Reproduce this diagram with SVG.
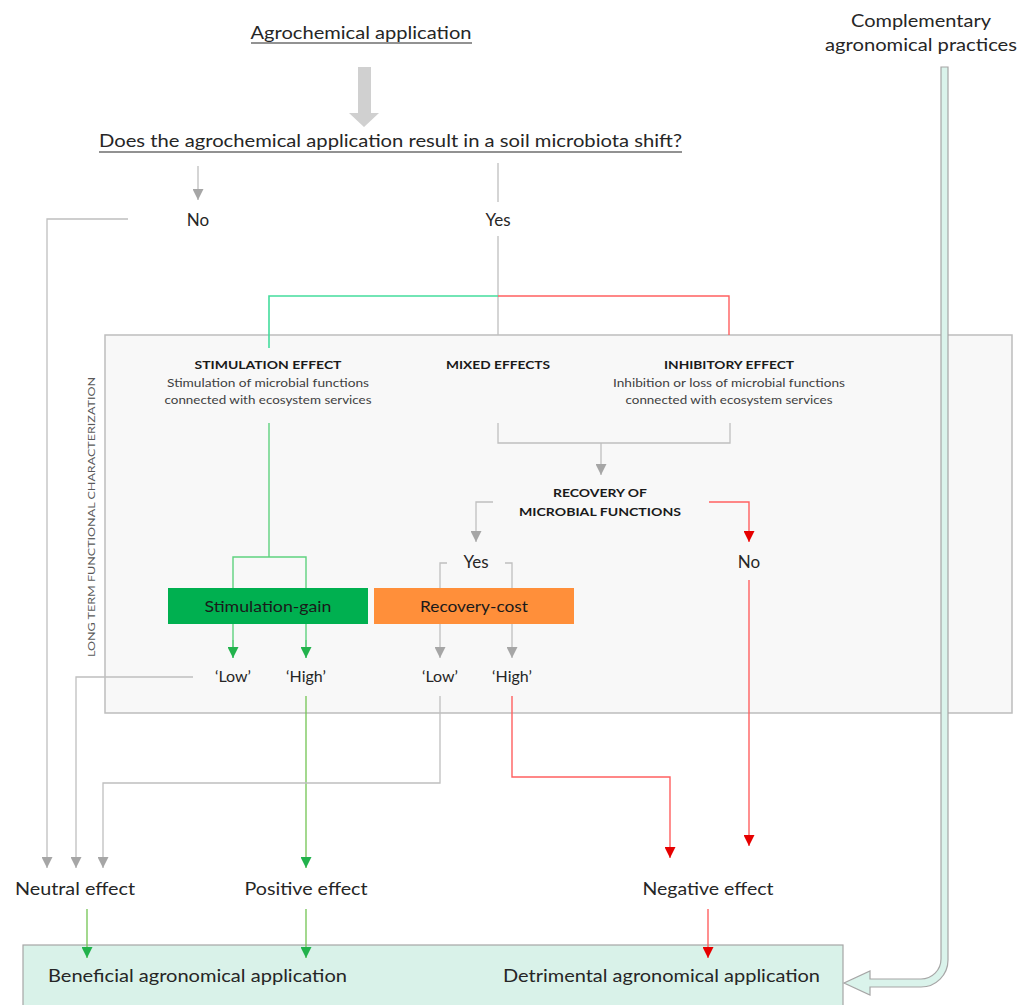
<svg xmlns="http://www.w3.org/2000/svg" width="1027" height="1005" viewBox="0 0 1027 1005">
<style>
text{font-family:Lato,"Liberation Sans",sans-serif;fill:#262626}
.lbl{font-size:17px}
.hdr{font-size:12px;font-weight:bold;fill:#1a1a1a}
.sub{font-size:11.5px;fill:#404040}
.mid{text-anchor:middle}
.g{stroke:#bfbfbf;stroke-width:1.3;fill:none}
.gu{stroke:#44dd9d;stroke-width:1.6;fill:none}
.gs{stroke:#5fd27f;stroke-width:1.4;fill:none}
.gl{stroke:#72c452;stroke-width:1.3;fill:none}
.r{stroke:#ff6060;stroke-width:1.4;fill:none}
.ua{stroke:#262626;stroke-width:1.2}
</style>
<defs>
<marker id="ag" viewBox="0 0 10 10" refX="10" refY="5" markerWidth="11" markerHeight="11" markerUnits="userSpaceOnUse" orient="auto"><path d="M0,0L10,5L0,10Z" fill="#a6a6a6"/></marker>
<marker id="agr" viewBox="0 0 10 10" refX="10" refY="5" markerWidth="11" markerHeight="11" markerUnits="userSpaceOnUse" orient="auto"><path d="M0,0L10,5L0,10Z" fill="#22b24c"/></marker>
<marker id="ar" viewBox="0 0 10 10" refX="10" refY="5" markerWidth="11" markerHeight="11" markerUnits="userSpaceOnUse" orient="auto"><path d="M0,0L10,5L0,10Z" fill="#e60000"/></marker>
</defs>
<rect width="1027" height="1005" fill="#ffffff"/>

<g id="ltfc-box">
<rect x="105" y="335" width="907" height="378" fill="#f8f8f8" stroke="#bdbdbd" stroke-width="1.5"/>
<text transform="translate(95,517) rotate(-90)" class="mid" style="font-size:10px;fill:#595959" textLength="280" lengthAdjust="spacingAndGlyphs">LONG TERM FUNCTIONAL CHARACTERIZATION</text>
</g>

<g id="outcome-box">
<rect x="23" y="945" width="820" height="70" fill="#d9f2e9" stroke="#a6a6a6" stroke-width="1.2"/>
</g>

<g id="connectors">
<polygon points="358,67 371,67 371,113 379,113 364,127 349,113 358,113" fill="#d0d0d0"/>
<line class="g" x1="198" y1="166" x2="198" y2="200" marker-end="url(#ag)"/>
<line class="g" x1="498" y1="163" x2="498" y2="202"/>
<polyline class="g" points="128,219 47,219 47,868" marker-end="url(#ag)"/>
<line class="g" x1="498" y1="236" x2="498" y2="335"/>
<polyline class="gu" points="498,296 269,296 269,348"/>
<polyline class="r" points="498,296 729,296 729,335"/>
<polyline class="gs" points="269,423 269,557"/>
<polyline class="gs" points="233,658 233,557 306,557 306,658"/>
<line x1="233" y1="640" x2="233" y2="658" class="gs" marker-end="url(#agr)"/>
<line x1="306" y1="640" x2="306" y2="658" class="gs" marker-end="url(#agr)"/>
<polyline class="g" points="498,423 498,443 730,443 730,423"/>
<line class="g" x1="601" y1="443" x2="601" y2="475" marker-end="url(#ag)"/>
<polyline class="g" points="493,502 476,502 476,542" marker-end="url(#ag)"/>
<polyline class="r" points="709,502 749,502 749,542" marker-end="url(#ar)"/>
<polyline class="g" points="447,563 440,563 440,658" marker-end="url(#ag)"/>
<polyline class="g" points="505,563 512,563 512,658" marker-end="url(#ag)"/>
<polyline class="g" points="193,677 76,677 76,868" marker-end="url(#ag)"/>
<line class="gl" x1="306" y1="696" x2="306" y2="868" marker-end="url(#agr)"/>
<polyline class="g" points="440,696 440,783 103,783 103,868" marker-end="url(#ag)"/>
<polyline class="r" points="512,696 512,777 670,777 670,858" marker-end="url(#ar)"/>
<line class="r" x1="749" y1="580" x2="749" y2="846" marker-end="url(#ar)"/>
<line class="gl" x1="87" y1="909" x2="87" y2="958" marker-end="url(#agr)"/>
<line class="gl" x1="306" y1="909" x2="306" y2="958" marker-end="url(#agr)"/>
<line class="r" x1="708" y1="909" x2="708" y2="958" marker-end="url(#ar)"/>
<path d="M941,67 L948,67 L948,960 A27,27 0 0 1 921,987 L870,987 L870,995 L844,983 L870,971 L870,979 L921,979 A20,20 0 0 0 941,959 Z" fill="#daf3eb" stroke="#a6a6a6" stroke-width="1.2"/>
</g>

<g id="agrochemical-application">
<text class="lbl mid" x="361" y="39" textLength="221" lengthAdjust="spacingAndGlyphs">Agrochemical application</text>
<line class="ua" x1="251" y1="43" x2="472" y2="43"/>
</g>

<g id="question">
<text class="lbl mid" x="390.5" y="147" textLength="583" lengthAdjust="spacingAndGlyphs">Does the agrochemical application result in a soil microbiota shift?</text>
<line class="ua" x1="99" y1="152" x2="682" y2="152"/>
</g>

<g id="complementary">
<text class="lbl mid" x="921" y="27" textLength="140" lengthAdjust="spacingAndGlyphs">Complementary</text>
<text class="lbl mid" x="921" y="51" textLength="192" lengthAdjust="spacingAndGlyphs">agronomical practices</text>
</g>

<g id="no-shift"><text class="lbl mid" x="198" y="226">No</text></g>
<g id="yes-shift"><text class="lbl mid" x="498" y="226">Yes</text></g>

<g id="stimulation-effect">
<text class="hdr mid" x="268" y="369" textLength="147" lengthAdjust="spacingAndGlyphs">STIMULATION EFFECT</text>
<text class="sub mid" x="268" y="387" textLength="202" lengthAdjust="spacingAndGlyphs">Stimulation of microbial functions</text>
<text class="sub mid" x="268" y="404" textLength="207" lengthAdjust="spacingAndGlyphs">connected with ecosystem services</text>
</g>

<g id="mixed-effects">
<text class="hdr mid" x="498" y="369" textLength="104" lengthAdjust="spacingAndGlyphs">MIXED EFFECTS</text>
</g>

<g id="inhibitory-effect">
<text class="hdr mid" x="729" y="369" textLength="130" lengthAdjust="spacingAndGlyphs">INHIBITORY EFFECT</text>
<text class="sub mid" x="729" y="387" textLength="232" lengthAdjust="spacingAndGlyphs">Inhibition or loss of microbial functions</text>
<text class="sub mid" x="729" y="404" textLength="207" lengthAdjust="spacingAndGlyphs">connected with ecosystem services</text>
</g>

<g id="recovery">
<text class="hdr mid" x="600" y="497" textLength="94" lengthAdjust="spacingAndGlyphs">RECOVERY OF</text>
<text class="hdr mid" x="600" y="516" textLength="162" lengthAdjust="spacingAndGlyphs">MICROBIAL FUNCTIONS</text>
</g>

<g id="recovery-yes"><text class="lbl mid" x="476" y="568">Yes</text></g>
<g id="recovery-no"><text class="lbl mid" x="749" y="568">No</text></g>

<g id="stimulation-gain">
<rect x="168" y="588" width="200" height="36" fill="#00b050"/>
<text class="mid" x="268" y="612" style="font-size:16px;fill:#1a1a1a" textLength="127" lengthAdjust="spacingAndGlyphs">Stimulation-gain</text>
</g>

<g id="recovery-cost">
<rect x="374" y="588" width="200" height="36" fill="#ff8f3a"/>
<text class="mid" x="474" y="612" style="font-size:16px;fill:#1a1a1a" textLength="108" lengthAdjust="spacingAndGlyphs">Recovery-cost</text>
</g>

<g id="sg-low"><text class="lbl mid" x="233" y="682" style="font-size:16px">‘Low’</text></g>
<g id="sg-high"><text class="lbl mid" x="306" y="682" style="font-size:16px">‘High’</text></g>
<g id="rc-low"><text class="lbl mid" x="440" y="682" style="font-size:16px">‘Low’</text></g>
<g id="rc-high"><text class="lbl mid" x="512" y="682" style="font-size:16px">‘High’</text></g>

<g id="neutral-effect"><text class="lbl mid" x="75" y="895" textLength="120" lengthAdjust="spacingAndGlyphs">Neutral effect</text></g>
<g id="positive-effect"><text class="lbl mid" x="306" y="895" textLength="123" lengthAdjust="spacingAndGlyphs">Positive effect</text></g>
<g id="negative-effect"><text class="lbl mid" x="708" y="895" textLength="131" lengthAdjust="spacingAndGlyphs">Negative effect</text></g>

<g id="beneficial"><text class="lbl" x="48" y="982" textLength="299" lengthAdjust="spacingAndGlyphs">Beneficial agronomical application</text></g>
<g id="detrimental"><text class="lbl" x="503" y="982" textLength="317" lengthAdjust="spacingAndGlyphs">Detrimental agronomical application</text></g>
</svg>
